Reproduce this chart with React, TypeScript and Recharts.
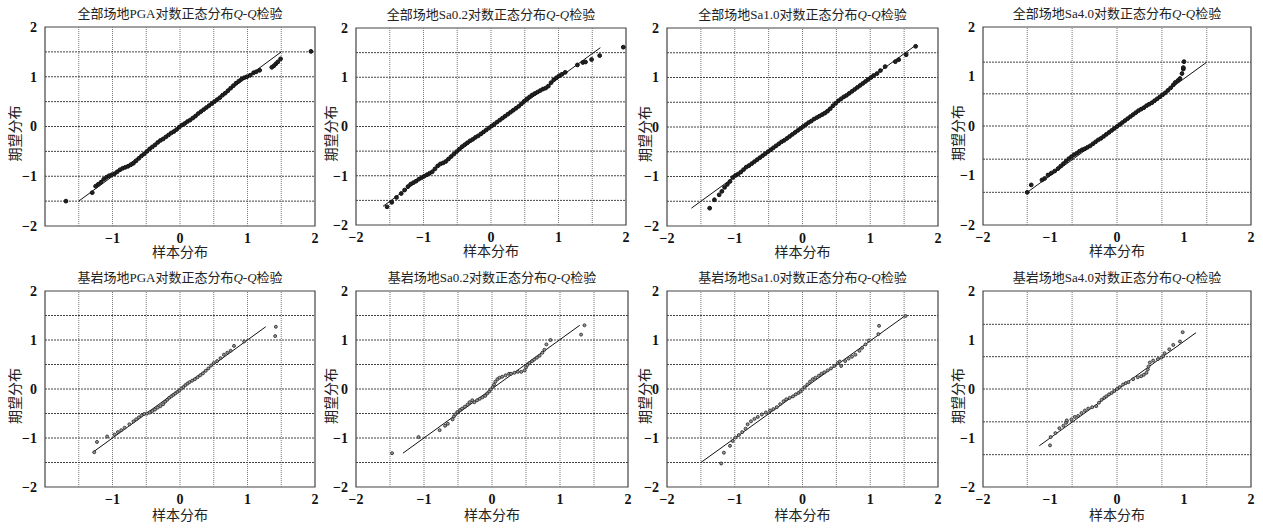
import React from 'react';
import { ScatterChart, Scatter, XAxis, YAxis, ReferenceLine, ReferenceArea } from 'recharts';

type Pt = [number, number];

const titles = [
  '全部场地PGA对数正态分布Q-Q检验',
  '全部场地Sa0.2对数正态分布Q-Q检验',
  '全部场地Sa1.0对数正态分布Q-Q检验',
  '全部场地Sa4.0对数正态分布Q-Q检验',
  '基岩场地PGA对数正态分布Q-Q检验',
  '基岩场地Sa0.2对数正态分布Q-Q检验',
  '基岩场地Sa1.0对数正态分布Q-Q检验',
  '基岩场地Sa4.0对数正态分布Q-Q检验',
];

// sample quantile (x) vs expected quantile (y)
const allPga: Pt[] = [
  [-1.69, -1.5], [-1.3, -1.33], [-1.25, -1.2], [-1.21, -1.16], [-1.17, -1.12], [-1.13, -1.06],
  [-1.09, -1.02], [-1.05, -0.99], [-1.01, -0.97], [-0.97, -0.95], [-0.93, -0.91], [-0.89, -0.87],
  [-0.85, -0.84], [-0.81, -0.82], [-0.77, -0.8], [-0.73, -0.77], [-0.69, -0.74], [-0.65, -0.69],
  [-0.61, -0.64], [-0.57, -0.59], [-0.53, -0.55], [-0.49, -0.5], [-0.45, -0.45], [-0.41, -0.41],
  [-0.37, -0.37], [-0.33, -0.32], [-0.29, -0.28], [-0.25, -0.25], [-0.21, -0.21], [-0.17, -0.17],
  [-0.13, -0.13], [-0.09, -0.1], [-0.05, -0.06], [-0.01, -0.01], [0.03, 0.03], [0.07, 0.06],
  [0.11, 0.1], [0.15, 0.13], [0.19, 0.17], [0.23, 0.21], [0.27, 0.26], [0.31, 0.3], [0.35, 0.34],
  [0.39, 0.38], [0.43, 0.42], [0.47, 0.46], [0.51, 0.5], [0.55, 0.54], [0.59, 0.58], [0.63, 0.63],
  [0.67, 0.67], [0.71, 0.72], [0.75, 0.77], [0.79, 0.82], [0.83, 0.87], [0.87, 0.91], [0.91, 0.95],
  [0.95, 0.98], [0.99, 1.0], [1.04, 1.03], [1.09, 1.08], [1.13, 1.1], [1.18, 1.13], [1.36, 1.19],
  [1.39, 1.22], [1.42, 1.26], [1.45, 1.3], [1.49, 1.36], [1.94, 1.51],
];

const allSa02: Pt[] = [
  [-1.54, -1.63], [-1.47, -1.54], [-1.4, -1.44], [-1.33, -1.36], [-1.28, -1.29], [-1.23, -1.22],
  [-1.19, -1.17], [-1.15, -1.14], [-1.11, -1.11], [-1.07, -1.07], [-1.03, -1.04], [-0.99, -1.01],
  [-0.95, -0.98], [-0.91, -0.95], [-0.87, -0.92], [-0.83, -0.86], [-0.79, -0.8], [-0.75, -0.76],
  [-0.71, -0.74], [-0.67, -0.71], [-0.63, -0.66], [-0.59, -0.61], [-0.55, -0.56], [-0.51, -0.51],
  [-0.47, -0.46], [-0.43, -0.41], [-0.39, -0.37], [-0.35, -0.33], [-0.31, -0.29], [-0.27, -0.26],
  [-0.23, -0.22], [-0.19, -0.19], [-0.15, -0.15], [-0.11, -0.11], [-0.07, -0.07], [-0.03, -0.03],
  [0.01, 0.01], [0.05, 0.05], [0.09, 0.09], [0.13, 0.13], [0.17, 0.17], [0.21, 0.21], [0.25, 0.25],
  [0.29, 0.29], [0.33, 0.33], [0.37, 0.37], [0.41, 0.41], [0.45, 0.46], [0.49, 0.51], [0.53, 0.56],
  [0.57, 0.6], [0.61, 0.64], [0.65, 0.67], [0.69, 0.7], [0.73, 0.73], [0.77, 0.76], [0.81, 0.78],
  [0.85, 0.82], [0.89, 0.89], [0.93, 0.95], [0.97, 0.99], [1.01, 1.03], [1.05, 1.06], [1.1, 1.1],
  [1.28, 1.25], [1.36, 1.3], [1.4, 1.31], [1.49, 1.36], [1.61, 1.44], [1.96, 1.61],
];

const allSa10: Pt[] = [
  [-1.37, -1.64], [-1.3, -1.47], [-1.23, -1.37], [-1.19, -1.3], [-1.15, -1.22], [-1.11, -1.16],
  [-1.07, -1.1], [-1.03, -1.02], [-0.99, -0.98], [-0.95, -0.95], [-0.91, -0.91], [-0.87, -0.86],
  [-0.83, -0.81], [-0.79, -0.78], [-0.75, -0.74], [-0.71, -0.7], [-0.67, -0.66], [-0.63, -0.62],
  [-0.59, -0.58], [-0.55, -0.54], [-0.51, -0.5], [-0.47, -0.46], [-0.43, -0.42], [-0.39, -0.38],
  [-0.35, -0.34], [-0.31, -0.3], [-0.27, -0.27], [-0.23, -0.23], [-0.19, -0.19], [-0.15, -0.15],
  [-0.11, -0.11], [-0.07, -0.07], [-0.03, -0.03], [0.01, 0.01], [0.05, 0.05], [0.09, 0.09],
  [0.13, 0.12], [0.17, 0.16], [0.21, 0.19], [0.25, 0.22], [0.29, 0.25], [0.33, 0.28], [0.37, 0.32],
  [0.41, 0.37], [0.45, 0.43], [0.49, 0.48], [0.53, 0.53], [0.57, 0.57], [0.61, 0.61], [0.65, 0.64],
  [0.69, 0.68], [0.73, 0.72], [0.77, 0.76], [0.81, 0.8], [0.85, 0.84], [0.89, 0.88], [0.93, 0.92],
  [0.97, 0.96], [1.01, 1.0], [1.05, 1.04], [1.1, 1.08], [1.15, 1.14], [1.22, 1.22], [1.37, 1.32],
  [1.42, 1.36], [1.53, 1.46], [1.67, 1.63],
];

const allSa40: Pt[] = [
  [-1.34, -1.34], [-1.28, -1.19], [-1.12, -1.09], [-1.08, -1.06], [-1.03, -0.99], [-0.98, -0.95],
  [-0.93, -0.91], [-0.88, -0.86], [-0.84, -0.81], [-0.8, -0.76], [-0.76, -0.71], [-0.72, -0.66],
  [-0.68, -0.62], [-0.64, -0.58], [-0.6, -0.55], [-0.56, -0.51], [-0.52, -0.48], [-0.48, -0.46],
  [-0.44, -0.43], [-0.4, -0.4], [-0.36, -0.36], [-0.32, -0.32], [-0.28, -0.28], [-0.24, -0.25],
  [-0.2, -0.21], [-0.16, -0.17], [-0.12, -0.13], [-0.08, -0.09], [-0.04, -0.05], [0.0, -0.01],
  [0.04, 0.03], [0.08, 0.07], [0.12, 0.11], [0.16, 0.15], [0.2, 0.19], [0.24, 0.23], [0.28, 0.27],
  [0.32, 0.31], [0.36, 0.34], [0.4, 0.37], [0.44, 0.41], [0.48, 0.44], [0.52, 0.47], [0.56, 0.51],
  [0.6, 0.55], [0.64, 0.59], [0.68, 0.63], [0.72, 0.67], [0.76, 0.72], [0.8, 0.77], [0.84, 0.83],
  [0.87, 0.88], [0.91, 0.92], [0.94, 0.96], [0.97, 1.06], [0.99, 1.15], [0.99, 1.18], [1.0, 1.3],
];

const rockPga: Pt[] = [
  [-1.27, -1.29], [-1.23, -1.08], [-1.08, -0.97], [-0.97, -0.93], [-0.92, -0.88], [-0.87, -0.84],
  [-0.82, -0.79], [-0.75, -0.72], [-0.69, -0.66], [-0.65, -0.62], [-0.61, -0.58], [-0.57, -0.54],
  [-0.53, -0.51], [-0.49, -0.5], [-0.45, -0.48], [-0.41, -0.45], [-0.37, -0.42], [-0.33, -0.38],
  [-0.29, -0.35], [-0.25, -0.31], [-0.22, -0.26], [-0.19, -0.22], [-0.16, -0.18], [-0.13, -0.15],
  [-0.1, -0.12], [-0.07, -0.09], [-0.04, -0.06], [-0.01, -0.03], [0.02, 0.01], [0.05, 0.04],
  [0.08, 0.08], [0.11, 0.11], [0.14, 0.14], [0.18, 0.17], [0.22, 0.2], [0.26, 0.24], [0.3, 0.28],
  [0.34, 0.32], [0.38, 0.37], [0.42, 0.42], [0.46, 0.48], [0.5, 0.53], [0.55, 0.57], [0.6, 0.63],
  [0.65, 0.7], [0.7, 0.74], [0.75, 0.78], [0.8, 0.88], [0.95, 0.97], [1.41, 1.08], [1.42, 1.27],
];

const rockSa02: Pt[] = [
  [-1.47, -1.31], [-1.08, -0.98], [-0.77, -0.84], [-0.69, -0.75], [-0.65, -0.71], [-0.58, -0.62],
  [-0.56, -0.56], [-0.54, -0.52], [-0.51, -0.47], [-0.47, -0.43], [-0.44, -0.4], [-0.4, -0.36],
  [-0.36, -0.32], [-0.33, -0.27], [-0.29, -0.23], [-0.26, -0.27], [-0.22, -0.23], [-0.18, -0.2],
  [-0.14, -0.17], [-0.1, -0.14], [-0.07, -0.09], [-0.04, -0.05], [-0.02, -0.01], [0.01, 0.04],
  [0.03, 0.09], [0.05, 0.15], [0.08, 0.2], [0.11, 0.23], [0.15, 0.25], [0.2, 0.28], [0.25, 0.31],
  [0.28, 0.31], [0.33, 0.33], [0.38, 0.35], [0.43, 0.35], [0.48, 0.38], [0.5, 0.44], [0.52, 0.49],
  [0.55, 0.53], [0.59, 0.57], [0.62, 0.6], [0.66, 0.64], [0.7, 0.68], [0.74, 0.74], [0.77, 0.8],
  [0.8, 0.91], [0.86, 1.0], [1.31, 1.11], [1.36, 1.3],
];

const rockSa10: Pt[] = [
  [-1.2, -1.52], [-1.16, -1.3], [-1.07, -1.16], [-1.03, -1.06], [-0.99, -0.99], [-0.94, -0.94],
  [-0.89, -0.88], [-0.84, -0.81], [-0.81, -0.72], [-0.76, -0.66], [-0.71, -0.61], [-0.66, -0.57],
  [-0.6, -0.52], [-0.54, -0.48], [-0.48, -0.44], [-0.43, -0.41], [-0.38, -0.37], [-0.33, -0.31],
  [-0.28, -0.25], [-0.24, -0.21], [-0.19, -0.18], [-0.14, -0.15], [-0.1, -0.11], [-0.06, -0.08],
  [-0.03, -0.05], [0.0, -0.01], [0.03, 0.04], [0.07, 0.09], [0.11, 0.15], [0.15, 0.2], [0.19, 0.23],
  [0.24, 0.27], [0.28, 0.31], [0.32, 0.34], [0.37, 0.38], [0.42, 0.42], [0.47, 0.47], [0.52, 0.53],
  [0.55, 0.56], [0.57, 0.47], [0.63, 0.57], [0.68, 0.62], [0.73, 0.66], [0.78, 0.7], [0.84, 0.78],
  [0.88, 0.84], [0.93, 0.91], [0.98, 0.99], [1.12, 1.12], [1.13, 1.29], [1.52, 1.49],
];

const rockSa40: Pt[] = [
  [-1.0, -1.15], [-0.99, -0.98], [-0.92, -0.9], [-0.86, -0.8], [-0.8, -0.75], [-0.76, -0.69],
  [-0.75, -0.64], [-0.68, -0.62], [-0.63, -0.57], [-0.58, -0.55], [-0.53, -0.49], [-0.48, -0.44],
  [-0.43, -0.4], [-0.37, -0.37], [-0.31, -0.35], [-0.27, -0.28], [-0.23, -0.22], [-0.19, -0.18],
  [-0.16, -0.15], [-0.12, -0.11], [-0.08, -0.08], [-0.04, -0.04], [0.0, 0.0], [0.04, 0.04],
  [0.09, 0.09], [0.13, 0.12], [0.17, 0.14], [0.24, 0.2], [0.31, 0.24], [0.36, 0.26], [0.4, 0.29],
  [0.44, 0.33], [0.46, 0.4], [0.47, 0.46], [0.49, 0.54], [0.54, 0.58], [0.61, 0.61], [0.66, 0.64],
  [0.69, 0.67], [0.71, 0.73], [0.78, 0.81], [0.84, 0.9], [0.94, 0.97], [0.98, 1.16],
];

const panelPoints = [allPga, allSa02, allSa10, allSa40, rockPga, rockSa02, rockSa10, rockSa40];

// reference line end points
const fitLines: [Pt, Pt][] = [
  [[-1.5, -1.5], [1.5, 1.5]],
  [[-1.6, -1.62], [1.62, 1.6]],
  [[-1.64, -1.64], [1.67, 1.65]],
  [[-1.34, -1.34], [1.34, 1.29]],
  [[-1.29, -1.29], [1.27, 1.27]],
  [[-1.31, -1.31], [1.29, 1.3]],
  [[-1.5, -1.5], [1.52, 1.5]],
  [[-1.16, -1.16], [1.18, 1.15]],
];

const xTicksFull = [-2, -1, 0, 1, 2];
const xTicksLeft = [-1, 0, 1, 2];
const yTicks = [-2, -1, 0, 1, 2];

const gridHalf = [-1.5, -1, -0.5, 0, 0.5, 1, 1.5];
const gridThirdX = [-1.34, -0.67, 0, 0.67, 1.34];
const gridAllSa40Y = [-1.34, -0.67, 0, 0.65, 1.29];
const gridRockSa40Y = [-1.34, -0.67, 0, 0.66, 1.32];

const gridX = [gridHalf, gridHalf, gridHalf, gridThirdX, gridHalf, gridHalf, gridHalf, gridThirdX];
const gridY = [gridHalf, gridHalf, gridHalf, gridAllSa40Y, gridHalf, gridHalf, gridHalf, gridRockSa40Y];

// plot rectangle of each panel on the page
const layouts = [
  { left: 45, top: 27, w: 270, h: 199, yLab: 15, xLab: 26, dense: true },
  { left: 356, top: 28, w: 270, h: 197, yLab: 20, xLab: 26, dense: true },
  { left: 667, top: 28, w: 271, h: 198, yLab: 23, xLab: 26, dense: true },
  { left: 983, top: 27, w: 268, h: 198, yLab: 20, xLab: 26, dense: true },
  { left: 45, top: 291, w: 270, h: 196, yLab: 15, xLab: 28, dense: false },
  { left: 356, top: 291, w: 272, h: 196, yLab: 20, xLab: 28, dense: false },
  { left: 667, top: 291, w: 271, h: 196, yLab: 23, xLab: 28, dense: false },
  { left: 983, top: 291, w: 268, h: 196, yLab: 20, xLab: 28, dense: false },
];

const FONT = "'Liberation Serif', 'Noto Sans CJK SC', serif";
const fmt = (v: number) => (v < 0 ? '\u2212' + Math.abs(v) : String(v));

const QQPanel = ({ idx }: { idx: number }) => {
  const L = layouts[idx];
  const data = panelPoints[idx].map(([x, y]) => ({ x, y }));
  const [p0, p1] = fitLines[idx];
  const width = L.w + 50;
  const height = L.h + 67;
  const [before, after] = titles[idx].split('Q-Q');

  return (
    <div style={{ position: 'absolute', left: L.left - 45, top: L.top - 27, width, height }}>
      <ScatterChart width={width} height={height} margin={{ top: 27, right: 5, bottom: 0, left: 0 }}>
        <XAxis
          type="number"
          dataKey="x"
          domain={[-2, 2]}
          ticks={idx % 4 === 0 ? xTicksLeft : xTicksFull}
          interval={0}
          allowDataOverflow
          axisLine={false}
          tickLine={false}
          tickMargin={1}
          tickFormatter={fmt}
          tick={{ fontSize: 14, fontWeight: 'bold', fontFamily: FONT, fill: '#111' }}
          height={40}
          label={{
            value: '样本分布',
            content: (p: any) => {
              const vb = p.viewBox;
              return (
                <text x={vb.x + vb.width / 2} y={vb.y + L.xLab} textAnchor="middle" dominantBaseline="central"
                  fontSize={14} fontFamily={FONT} fill="#222">样本分布</text>
              );
            },
          }}
        />
        <YAxis
          type="number"
          dataKey="y"
          domain={[-2, 2]}
          ticks={yTicks}
          interval={0}
          allowDataOverflow
          axisLine={false}
          tickLine={false}
          tickFormatter={fmt}
          tick={{ fontSize: 14, fontWeight: 'bold', fontFamily: FONT, fill: '#111' }}
          width={45}
          label={{
            value: '期望分布',
            content: (p: any) => {
              const vb = p.viewBox;
              const cx = vb.x + L.yLab;
              const cy = vb.y + vb.height / 2 + 7;
              return (
                <text x={cx} y={cy} transform={`rotate(-90 ${cx} ${cy})`} textAnchor="middle" dominantBaseline="central"
                  fontSize={14} fontFamily={FONT} fill="#222">期望分布</text>
              );
            },
          }}
        />
        {gridX[idx].map((v) => (
          <ReferenceLine key={'gx' + v} x={v} stroke="#777" strokeDasharray="1 1" />
        ))}
        {gridY[idx].map((v) => (
          <ReferenceLine key={'gy' + v} y={v} stroke="#444" strokeDasharray="2 1" />
        ))}
        <ReferenceArea x1={-2} x2={2} y1={-2} y2={2} fill="none" stroke="#444" strokeWidth={1.2} />
        <ReferenceLine segment={[{ x: p0[0], y: p0[1] }, { x: p1[0], y: p1[1] }]} stroke="#111" strokeWidth={1} />
        <Scatter
          data={data}
          isAnimationActive={false}
          shape={(s: any) =>
            L.dense ? (
              <circle cx={s.cx} cy={s.cy} r={1.9} fill="#222" stroke="#111" strokeWidth={1} />
            ) : (
              <circle cx={s.cx} cy={s.cy} r={1.5} fill="#999" stroke="#222" strokeWidth={0.8} />
            )
          }
        />
      </ScatterChart>
      <div
        style={{
          position: 'absolute', left: 45, top: 6, width: L.w, textAlign: 'center', fontSize: 13,
          lineHeight: '16px', fontFamily: FONT, color: '#222', whiteSpace: 'nowrap',
        }}
      >
        {before}<i>Q-Q</i>{after}
      </div>
    </div>
  );
};

export default function App() {
  return (
    <div style={{ position: 'absolute', left: 0, top: 0, width: 1263, height: 528, background: '#fff' }}>
      {layouts.map((_, i) => (
        <QQPanel key={i} idx={i} />
      ))}
    </div>
  );
}
